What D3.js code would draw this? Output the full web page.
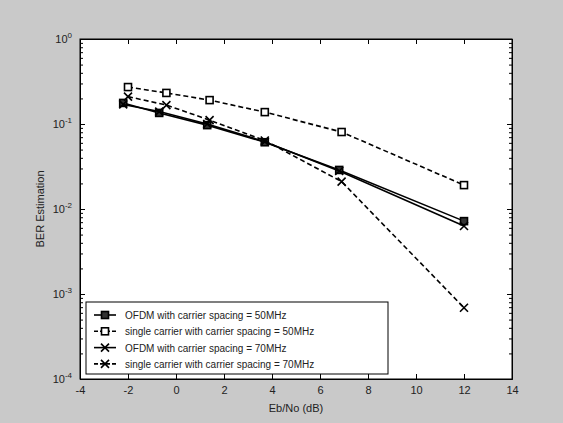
<!DOCTYPE html>
<html>
<head>
<meta charset="utf-8">
<script src="https://cdn.jsdelivr.net/npm/d3@7"></script>
<style>
  body { margin: 0; background: #c9c9c9; }
  svg { display: block; font-family: Arial, "Liberation Sans", sans-serif; }
</style>
</head>
<body>
<svg width="563" height="423"></svg>
<script>
// values
const xOfdm = [-2.2, -0.7, 1.3, 3.7, 6.8, 12];
const xSingle = [-2, -0.4, 1.4, 3.7, 6.9, 12];
const ofdm50 = [0.177, 0.135, 0.097, 0.061, 0.0288, 0.0072];
const single50 = [0.272, 0.232, 0.191, 0.138, 0.0805, 0.0191];
const ofdm70 = [0.17, 0.14, 0.1, 0.062, 0.028, 0.0063];
const single70 = [0.21, 0.167, 0.111, 0.064, 0.021, 0.00069];
const legendLabels = [
    "OFDM with carrier spacing = 50MHz",
    "single carrier  with carrier spacing = 50MHz",
    "OFDM with carrier spacing = 70MHz",
    "single carrier with carrier spacing = 70MHz"
];
const xTicks = [-4, -2, 0, 2, 4, 6, 8, 10, 12, 14];
const yExps = [0, -1, -2, -3, -4];

const svg = d3.select("svg");
const plotLeft = 80, plotRight = 512, plotTop = 39, plotBottom = 379;

svg.append("rect").attr("width", 563).attr("height", 423).attr("fill", "#c9c9c9");
svg.append("rect")
    .attr("x", plotLeft).attr("y", plotTop)
    .attr("width", plotRight - plotLeft).attr("height", plotBottom - plotTop)
    .attr("fill", "#fff");

const x = d3.scaleLinear().domain([-4, 14]).range([plotLeft, plotRight]);
const y = d3.scaleLog().domain([1e-4, 1]).range([plotBottom, plotTop]);

const yMajor = yExps.map(e => Math.pow(10, e));
const yMinor = [];
yExps.slice(1).forEach(e => {
    for (let m = 2; m <= 9; m++) yMinor.push(m * Math.pow(10, e));
});

// x axes (ticks point inward)
const gx = svg.append("g").attr("transform", `translate(0,${plotBottom})`)
    .call(d3.axisBottom(x).tickValues(xTicks).tickSize(-5).tickSizeOuter(0).tickPadding(7)
        .tickFormat(d => String(d)));
svg.append("g").attr("transform", `translate(0,${plotTop})`)
    .call(d3.axisTop(x).tickValues(xTicks).tickSize(-5).tickSizeOuter(0).tickFormat(""));

// y axes
const gy = svg.append("g").attr("transform", `translate(${plotLeft},0)`)
    .call(d3.axisLeft(y).tickValues(yMajor).tickSize(-5).tickSizeOuter(0).tickPadding(8).tickFormat(""));
svg.append("g").attr("transform", `translate(${plotRight},0)`)
    .call(d3.axisRight(y).tickValues(yMajor).tickSize(-5).tickSizeOuter(0).tickFormat(""));
svg.append("g").attr("transform", `translate(${plotLeft},0)`)
    .call(d3.axisLeft(y).tickValues(yMinor).tickSize(-3).tickSizeOuter(0).tickFormat(""));
svg.append("g").attr("transform", `translate(${plotRight},0)`)
    .call(d3.axisRight(y).tickValues(yMinor).tickSize(-3).tickSizeOuter(0).tickFormat(""));

svg.selectAll(".domain").attr("stroke", "#000");
svg.selectAll(".tick line").attr("stroke", "#000");
svg.selectAll(".tick text").attr("fill", "#222").attr("font-size", 11);

gy.selectAll(".tick text").each(function(d) {
    const t = d3.select(this);
    t.append("tspan").text("10");
    t.append("tspan").attr("dy", -5).attr("font-size", 8).text(String(Math.round(Math.log10(d))));
});

// plot frame
svg.append("rect")
    .attr("x", plotLeft).attr("y", plotTop)
    .attr("width", plotRight - plotLeft).attr("height", plotBottom - plotTop)
    .attr("fill", "none").attr("stroke", "#000");

// axis labels
svg.append("text")
    .attr("x", (plotLeft + plotRight) / 2).attr("y", 412)
    .attr("text-anchor", "middle").attr("font-size", 11).attr("fill", "#222")
    .text("Eb/No (dB)");
svg.append("text")
    .attr("transform", `translate(44,${(plotTop + plotBottom) / 2}) rotate(-90)`)
    .attr("text-anchor", "middle").attr("font-size", 11).attr("fill", "#222")
    .text("BER Estimation");

const series = [
    { xs: xOfdm, ys: ofdm50, dash: null, marker: "filled" },
    { xs: xSingle, ys: single50, dash: "5,3", marker: "open" },
    { xs: xOfdm, ys: ofdm70, dash: null, marker: "x" },
    { xs: xSingle, ys: single70, dash: "5,3", marker: "x" }
];

const line = d3.line().x(d => x(d[0])).y(d => y(d[1]));

function drawMarker(g, type, cx, cy) {
    if (type === "x") {
        g.append("path")
            .attr("d", `M${cx - 4},${cy - 4}L${cx + 4},${cy + 4}M${cx - 4},${cy + 4}L${cx + 4},${cy - 4}`)
            .attr("stroke", "#000").attr("stroke-width", 1.6);
    } else {
        g.append("rect")
            .attr("x", cx - 3.5).attr("y", cy - 3.5).attr("width", 7).attr("height", 7)
            .attr("fill", type === "filled" ? "#333" : "#fff")
            .attr("stroke", "#000").attr("stroke-width", 1.6);
    }
}

series.forEach(s => {
    const pts = s.xs.map((v, i) => [v, s.ys[i]]);
    svg.append("path")
        .attr("d", line(pts))
        .attr("fill", "none").attr("stroke", "#000").attr("stroke-width", 1.6)
        .attr("stroke-dasharray", s.dash);
    const g = svg.append("g");
    pts.forEach(p => drawMarker(g, s.marker, x(p[0]), y(p[1])));
});

// legend
const lg = svg.append("g");
lg.append("rect")
    .attr("x", 86).attr("y", 302).attr("width", 302).attr("height", 72)
    .attr("fill", "#fff").attr("stroke", "#000");
series.forEach((s, i) => {
    const ly = 315 + i * 16.3;
    lg.append("line")
        .attr("x1", 94).attr("x2", 116).attr("y1", ly).attr("y2", ly)
        .attr("stroke", "#000").attr("stroke-width", 1.6)
        .attr("stroke-dasharray", s.dash ? "4,2" : null);
    drawMarker(lg, s.marker, 105, ly);
    lg.append("text")
        .attr("x", 125).attr("y", ly + 4)
        .attr("font-size", 10).attr("fill", "#222")
        .text(legendLabels[i]);
});
</script>
</body>
</html>
